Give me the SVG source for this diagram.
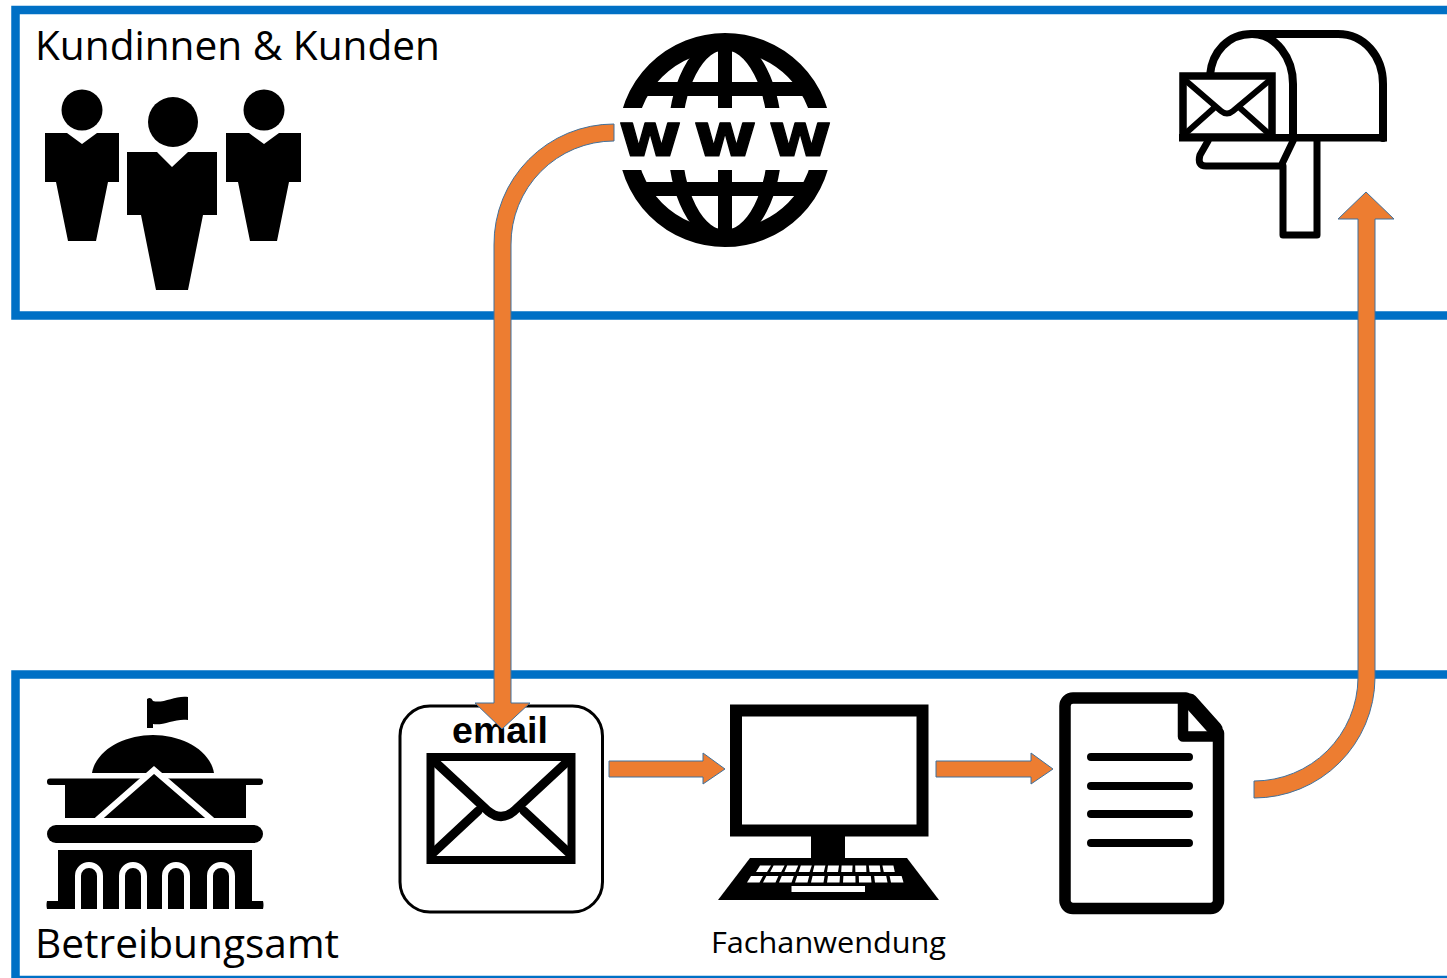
<svg xmlns="http://www.w3.org/2000/svg" width="1447" height="978" viewBox="0 0 1447 978">
<style>
.frame{fill:none;stroke:#0070C5;stroke-width:8.5}
.title{font-family:"Open Sans","Noto Sans",sans-serif;font-size:40px;fill:#000}
.k{fill:#000}
.line{fill:none;stroke:#000;stroke-linejoin:round;stroke-linecap:round}
.arrow{fill:#ED7D31;stroke:#41719C;stroke-width:1}
.key{fill:#fff}
</style>
<defs>
<clipPath id="globeClip"><rect x="610" y="25" width="230" height="83"/><rect x="610" y="170" width="230" height="85"/></clipPath>
<path id="arch" d="M0 44V11a11 11 0 0 1 22 0V44" fill="#000" stroke="#fff" stroke-width="6"/>
</defs>
<rect width="1447" height="978" fill="#fff"/>
<g id="frames">
<path id="frame-kunden" class="frame" d="M1447 10H15.500V315.500H1447"/>
<path id="frame-amt" class="frame" d="M1447 674.500H15.500V980H1447"/>
</g>
<g id="node-kunden">
<text class="title" x="35" y="60" textLength="405" lengthAdjust="spacingAndGlyphs">Kundinnen &amp; Kunden</text>
<circle class="k" cx="82" cy="110" r="20.500"/>
<path class="k" d="M45 133H67L82 144L97 133H119V182H108L96 241H68L56 182H45Z"/>
<circle class="k" cx="173" cy="122" r="25"/>
<path class="k" d="M127 152H157L172 167L188 152H217V215H203L188 290H156L141 215H127Z"/>
<circle class="k" cx="264" cy="110" r="20.500"/>
<path class="k" d="M226 133H249L264 144L279 133H301V182H289L277 241H250L238 182H226Z"/>
</g>
<g id="node-www">
<g clip-path="url(#globeClip)">
<rect class="k" x="635" y="82" width="180" height="14"/>
<rect class="k" x="635" y="182" width="180" height="14"/>
<circle cx="725" cy="140" r="98" fill="none" stroke="#000" stroke-width="18"/>
<ellipse cx="725" cy="140" rx="50" ry="97" fill="none" stroke="#000" stroke-width="14"/>
<rect class="k" x="718" y="38" width="14" height="204"/>
</g>
<text transform="translate(725 0) scale(1.13 1)" x="-66.400 0 66.400" y="156" text-anchor="middle" font-family="'DejaVu Sans',sans-serif" font-weight="700" font-size="61" fill="#000" stroke="#000" stroke-width="1.200" stroke-linejoin="round">www</text>
</g>
<g id="node-mailbox">
<path class="line" stroke-width="8" d="M1210 75C1212 52 1228 34 1252 34H1338C1364 34 1383 56 1383 84V138"/>
<path class="line" stroke-width="8" d="M1252 34C1276 34 1293 58 1293 84V138"/>
<rect class="k" x="1179" y="134" width="208" height="7.500"/>
<rect x="1183" y="76" width="89" height="61" fill="#fff" stroke="#000" stroke-width="7.500"/>
<path class="line" stroke-width="6" d="M1185 80L1221 111Q1227 116 1233 111L1270 80M1186 133L1214 108M1268 133L1240 108"/>
<path class="line" stroke-width="7" d="M1208 141L1200 155Q1197 166 1206 166H1281L1293 141"/>
<path class="line" stroke-width="7" d="M1283 166V235H1317V141"/>
</g>
<g id="node-amt">
<path class="k" d="M147 699Q151 696 153 701C163 704 176 695 188 697V720C176 718 163 726 153 724V728H147Z"/>
<path class="k" d="M92 773C96 750 124 735 153 735C182 735 210 750 214 773Z"/>
<rect class="k" x="47" y="778.500" width="216" height="6.500" rx="3"/>
<rect class="k" x="65" y="785" width="181" height="33"/>
<path d="M97 820L154 770L212 820" fill="#000" stroke="#fff" stroke-width="6"/>
<rect x="60" y="818" width="190" height="7" fill="#fff"/>
<rect class="k" x="47" y="825" width="216" height="18" rx="9"/>
<path class="k" d="M58 850H252V901H263Q264 905 263 909H47Q46 905 47 901H58Z"/>
<use href="#arch" x="78" y="865"/>
<use href="#arch" x="122" y="865"/>
<use href="#arch" x="165" y="865"/>
<use href="#arch" x="210" y="865"/>
<text class="title" x="35" y="958" textLength="304" lengthAdjust="spacingAndGlyphs">Betreibungsamt</text>
</g>
<g id="node-email">
<rect x="400" y="706" width="202.500" height="206" rx="30" fill="#fff" stroke="#000" stroke-width="3"/>
<text x="500" y="743" text-anchor="middle" font-family="'Liberation Sans',sans-serif" font-weight="700" font-size="37.500" fill="#000">email</text>
<rect x="430.500" y="757" width="141" height="103" fill="#fff" stroke="#000" stroke-width="8"/>
<path class="line" stroke-width="9" stroke-linecap="butt" d="M433 760L488 811Q501 822 514 811L569 760M433 853L478 811M569 853L524 811"/>
</g>
<g id="node-fachanwendung">
<rect x="736" y="710.500" width="186.500" height="120" fill="#fff" stroke="#000" stroke-width="12"/>
<rect class="k" x="811" y="835" width="34" height="24"/>
<path class="k" d="M750 858H907L939 900H718Z"/>
<g id="keys">
<path class="key" d="M760 865.500H771L767 872H756ZM773.600 865.500H784.600L781.200 872H770.200ZM787.200 865.500H798.200L795.400 872H784.400ZM800.800 865.500H811.800L809.600 872H798.600ZM814.400 865.500H825.400L823.800 872H812.800ZM828 865.500H839L838 872H827ZM841.600 865.500H852.600L852.200 872H841.200ZM855.200 865.500H866.200L866.400 872H855.400ZM868.800 865.500H879.800L880.600 872H869.600ZM882.400 865.500H893.400L894.800 872H883.800Z"/>
<path class="key" d="M751 876H763L759.500 882.500H747ZM766.400 876H778.400L775.500 882.500H763ZM781.800 876H793.800L791.500 882.500H779ZM797.200 876H809.200L807.500 882.500H795ZM812.600 876H824.600L823.500 882.500H811ZM828 876H840L839.500 882.500H827ZM843.400 876H855.400L855.500 882.500H843ZM858.800 876H870.800L871.500 882.500H859ZM874.200 876H886.200L887.500 882.500H875ZM889.600 876H901.600L903.500 882.500H891Z"/>
<rect class="key" x="791.500" y="886" width="73.500" height="6"/>
</g>
<text x="711" y="953" font-family="'Open Sans','Noto Sans',sans-serif" font-size="29" fill="#000" textLength="235" lengthAdjust="spacingAndGlyphs">Fachanwendung</text>
</g>
<g id="node-document">
<path fill="#fff" stroke="#000" stroke-width="11.500" stroke-linejoin="round" d="M1073 698H1186L1218.500 733V900A8 8 0 0 1 1210.500 908.500H1073A8 8 0 0 1 1065 900V706A8 8 0 0 1 1073 698Z"/>
<path class="line" stroke-width="15" d="M1190 701L1215 729"/>
<path class="line" stroke-width="10.500" d="M1183 701V736.500H1218"/>
<path class="line" stroke-width="8" d="M1091 757H1189M1091 786H1189M1091 814H1189M1091 843H1189"/>
</g>
<g id="connectors">
<path class="arrow" d="M614 124A120 120 0 0 0 494 245V703H475L502 729L530 703H511V245A103 103 0 0 1 614 141Z"/>
<path class="arrow" d="M609 761H703V753L725 769L703 784V777H609Z"/>
<path class="arrow" d="M936 761H1031V753L1053 769L1031 784V777H936Z"/>
<path class="arrow" d="M1254 781A104 104 0 0 0 1358 678V219H1338L1366 192L1394 219H1375V678A121 121 0 0 1 1254 798Z"/>
</g>
</svg>
